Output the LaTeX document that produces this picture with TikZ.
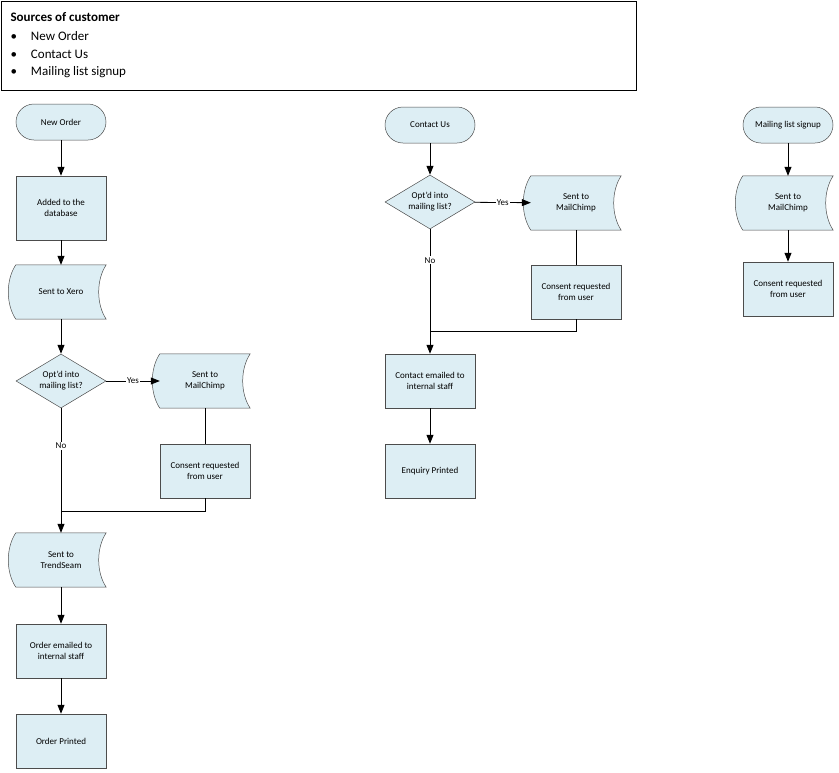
\documentclass[tikz,border=0pt]{standalone}
\usepackage{fontspec}
\setmainfont{Carlito}
\usetikzlibrary{shapes.geometric,arrows.meta}
\begin{document}
\begin{tikzpicture}[x=1pt,y=-1pt,
  every node/.style={font=\fontsize{9}{11}\selectfont,align=center},
  base/.style={draw=black!70,fill=boxc,line width=0.5pt,inner sep=1pt},
  term/.style={base,rounded corners=18pt,minimum width=90pt,minimum height=36pt},
  proc/.style={base,minimum width=90pt,minimum height=54pt},
  dec/.style={base,diamond,aspect=1.67,minimum width=90pt,minimum height=54pt,inner sep=0pt},
  stor/.style={minimum width=90pt,minimum height=54pt,inner sep=1pt},
  arr/.style={-{Triangle[length=9pt,width=7pt]},line width=0.8pt},
  ln/.style={line width=0.8pt},
  lbl/.style={fill=white,inner sep=1pt}]
\definecolor{boxc}{RGB}{221,238,244}
\newcommand\storednode[3]{%
  \node[stor] (#1) at (#2) {};
  \path[base] (#1.north west) .. controls +(-10,15) and +(-10,-15) .. (#1.south west)
    -- (#1.south east) .. controls +(-10,-15) and +(-10,15) .. (#1.north east) -- cycle;
  \node at (#1) {#3};}
\useasboundingbox (0,0) rectangle (839,772);
\fill[white] (0,0) rectangle (839,772);
% header
\node[draw=black,line width=0.6pt,minimum width=635pt,minimum height=89pt,inner sep=0pt] (hdr) at (318.5,45.5) {};
\node[anchor=west,font=\fontsize{13}{15}\selectfont\bfseries] (ht) at (7,17) {Sources of customer};
\node[anchor=west,font=\fontsize{13}{15}\selectfont] (b1) at (7,36) {\textbullet\hspace{14pt}New Order};
\node[anchor=west,font=\fontsize{13}{15}\selectfont] (b2) at (7,54) {\textbullet\hspace{14pt}Contact Us};
\node[anchor=west,font=\fontsize{13}{15}\selectfont] (b3) at (7,72) {\textbullet\hspace{14pt}Mailing list signup};
% column 1
\node[term] (no) at (61,122) {New Order};
\node[proc,minimum height=64pt] (db) at (61,208) {Added to the\\database};
\storednode{xero}{61,292}{Sent to Xero}
\node[dec] (d1) at (61,381) {Opt'd into\\mailing list?};
\storednode{mc1}{205,381}{Sent to\\MailChimp}
\node[proc] (c1) at (205,471) {Consent requested\\from user};
\coordinate (j1) at (61,511);
\storednode{ts}{61,560}{Sent to\\TrendSeam}
\node[proc] (oe) at (61,651) {Order emailed to\\internal staff};
\node[proc] (op) at (61,741) {Order Printed};
\draw[arr] (no) -- (db);
\draw[arr] (db) -- (xero);
\draw[arr] (xero) -- (d1);
\draw[arr] (d1) -- node[lbl]{Yes} (mc1);
\draw[ln] (mc1) -- (c1);
\draw[ln] (c1.south) |- (j1);
\draw[arr] (d1.south) -- node[lbl,pos=0.3]{No} (ts);
\draw[arr] (ts) -- (oe);
\draw[arr] (oe) -- (op);
% column 2
\node[term] (cu) at (430,125) {Contact Us};
\node[dec] (d2) at (430,202) {Opt'd into\\mailing list?};
\storednode{mc2}{576,203}{Sent to\\MailChimp}
\node[proc] (c2) at (576,292) {Consent requested\\from user};
\coordinate (j2) at (430,331);
\node[proc] (ce) at (430,381) {Contact emailed to\\internal staff};
\node[proc] (ep) at (430,471) {Enquiry Printed};
\draw[arr] (cu) -- (d2);
\draw[arr] (d2) -- node[lbl]{Yes} (mc2);
\draw[ln] (mc2) -- (c2);
\draw[ln] (c2.south) |- (j2);
\draw[arr] (d2.south) -- node[lbl,pos=0.25]{No} (ce);
\draw[arr] (ce) -- (ep);
% column 3
\node[term] (ms) at (788,125) {Mailing list signup};
\storednode{mc3}{788,203}{Sent to\\MailChimp}
\node[proc] (c3) at (788,289) {Consent requested\\from user};
\draw[arr] (ms) -- (mc3);
\draw[arr] (mc3) -- (c3);
\end{tikzpicture}
\end{document}
